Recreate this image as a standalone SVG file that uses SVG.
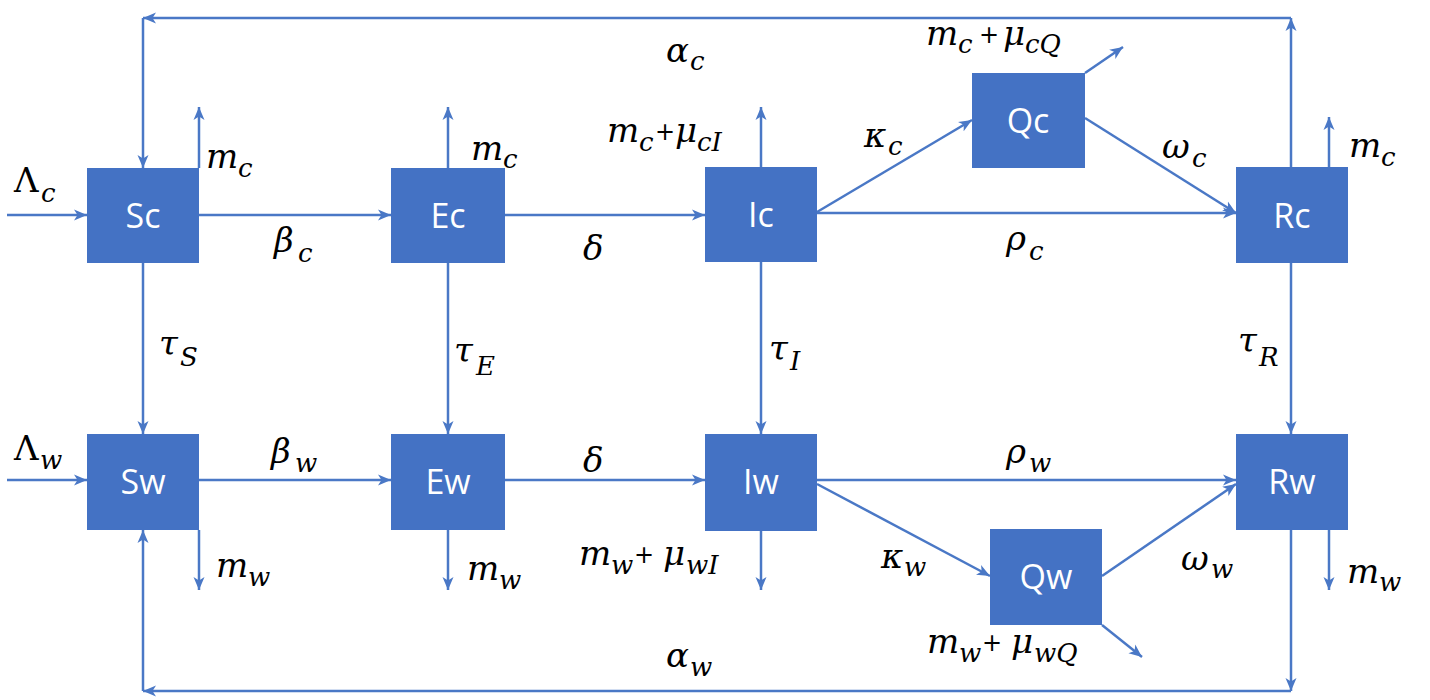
<svg xmlns="http://www.w3.org/2000/svg" width="1430" height="700" viewBox="0 0 1430 700">
<style>
.box{fill:#4472C4}
.bt{fill:#fff;font-family:"Open Sans","Liberation Sans",sans-serif;font-size:34px;text-anchor:middle}
.ln{stroke:#4a78c6;stroke-width:2.5;fill:none}
.a{marker-end:url(#ah)}
.m{font-family:"DejaVu Serif","Liberation Serif",serif;font-style:italic;font-size:34px;fill:#000}
.s{font-size:26px}
.u{font-style:normal}
.p{font-style:normal;font-family:"DejaVu Sans",sans-serif;font-size:24px}
</style>
<defs>
<marker id="ah" markerUnits="userSpaceOnUse" markerWidth="14" markerHeight="12" refX="13" refY="6" orient="auto">
<path d="M0,0.5 L13,6 L0,11.5 L3.5,6 z" fill="#4a78c6"/>
</marker>
</defs>
<rect width="1430" height="700" fill="#fff"/>
<g id="connectors">
<line class="ln a" x1="7" y1="215" x2="87" y2="215"/>
<line class="ln a" x1="199" y1="215" x2="391" y2="215"/>
<line class="ln a" x1="505" y1="215" x2="705" y2="215"/>
<line class="ln a" x1="817" y1="213" x2="1236" y2="213"/>
<line class="ln a" x1="817" y1="212" x2="972" y2="120"/>
<line class="ln a" x1="1085" y1="118" x2="1236" y2="213"/>
<line class="ln a" x1="1085" y1="73" x2="1123" y2="47"/>
<line class="ln a" x1="199" y1="168" x2="199" y2="107"/>
<line class="ln a" x1="448" y1="168" x2="448" y2="107"/>
<line class="ln a" x1="761" y1="167" x2="761" y2="107"/>
<line class="ln a" x1="1329" y1="167" x2="1329" y2="117"/>
<line class="ln a" x1="1291" y1="167" x2="1291" y2="18"/>
<line class="ln a" x1="1291" y1="18" x2="143" y2="18"/>
<line class="ln a" x1="143" y1="18" x2="143" y2="168"/>
<line class="ln a" x1="143" y1="263" x2="143" y2="434"/>
<line class="ln a" x1="448" y1="263" x2="448" y2="434"/>
<line class="ln a" x1="761" y1="262" x2="761" y2="434"/>
<line class="ln a" x1="1291" y1="263" x2="1291" y2="434"/>
<line class="ln a" x1="7" y1="480" x2="87" y2="480"/>
<line class="ln a" x1="199" y1="480" x2="391" y2="480"/>
<line class="ln a" x1="505" y1="480" x2="705" y2="480"/>
<line class="ln a" x1="817" y1="480" x2="1236" y2="480"/>
<line class="ln a" x1="817" y1="484" x2="990" y2="576"/>
<line class="ln a" x1="1102" y1="576" x2="1236" y2="484"/>
<line class="ln a" x1="1102" y1="625" x2="1142" y2="657"/>
<line class="ln a" x1="199" y1="530" x2="199" y2="590"/>
<line class="ln a" x1="448" y1="530" x2="448" y2="590"/>
<line class="ln a" x1="761" y1="531" x2="761" y2="590"/>
<line class="ln a" x1="1329" y1="530" x2="1329" y2="590"/>
<line class="ln a" x1="1291" y1="530" x2="1291" y2="691"/>
<line class="ln a" x1="1291" y1="691" x2="143" y2="691"/>
<line class="ln a" x1="143" y1="691" x2="143" y2="530"/>
</g>
<g id="Sc"><rect class="box" x="87" y="168" width="112" height="95"/><text class="bt" x="143" y="228">Sc</text></g>
<g id="Ec"><rect class="box" x="391" y="168" width="114" height="95"/><text class="bt" x="448" y="228">Ec</text></g>
<g id="Ic"><rect class="box" x="705" y="167" width="112" height="95"/><text class="bt" x="761" y="227">Ic</text></g>
<g id="Qc"><rect class="box" x="972" y="73" width="113" height="95"/><text class="bt" x="1028" y="133">Qc</text></g>
<g id="Rc"><rect class="box" x="1236" y="167" width="112" height="96"/><text class="bt" x="1292" y="228">Rc</text></g>
<g id="Sw"><rect class="box" x="87" y="434" width="112" height="96"/><text class="bt" x="143" y="494">Sw</text></g>
<g id="Ew"><rect class="box" x="391" y="434" width="114" height="96"/><text class="bt" x="448" y="494">Ew</text></g>
<g id="Iw"><rect class="box" x="705" y="434" width="112" height="97"/><text class="bt" x="761" y="494">Iw</text></g>
<g id="Qw"><rect class="box" x="990" y="529" width="112" height="96"/><text class="bt" x="1046" y="589">Qw</text></g>
<g id="Rw"><rect class="box" x="1236" y="434" width="112" height="96"/><text class="bt" x="1292" y="494">Rw</text></g>
<g id="labels">
<text class="m"><tspan class="u" x="14" y="192">Λ</tspan><tspan class="s" x="41" y="202">c</tspan></text>
<text class="m"><tspan x="206" y="168">m</tspan><tspan class="s" x="238" y="177">c</tspan></text>
<text class="m"><tspan x="274" y="252">β</tspan><tspan class="s" x="298" y="262">c</tspan></text>
<text class="m"><tspan x="471" y="160">m</tspan><tspan class="s" x="503" y="168">c</tspan></text>
<text class="m"><tspan x="607" y="142">m</tspan><tspan class="s" x="639" y="151">c</tspan><tspan class="p" x="655" y="140">+</tspan><tspan x="675" y="142">μ</tspan><tspan class="s" x="697" y="151">cI</tspan></text>
<text class="m"><tspan x="666" y="62">α</tspan><tspan class="s" x="690" y="70">c</tspan></text>
<text class="m" x="583" y="260">δ</text>
<text class="m"><tspan x="864" y="147">κ</tspan><tspan class="s" x="888" y="155">c</tspan></text>
<text class="m"><tspan x="926" y="45">m</tspan><tspan class="s" x="958" y="53">c</tspan><tspan class="p" x="979" y="43">+</tspan><tspan x="1003" y="45">μ</tspan><tspan class="s" x="1025" y="53">cQ</tspan></text>
<text class="m"><tspan x="1162" y="158">ω</tspan><tspan class="s" x="1192" y="167">c</tspan></text>
<text class="m"><tspan x="1349" y="157">m</tspan><tspan class="s" x="1381" y="166">c</tspan></text>
<text class="m"><tspan x="1006" y="250">ρ</tspan><tspan class="s" x="1029" y="260">c</tspan></text>
<text class="m"><tspan x="159" y="355">τ</tspan><tspan class="s" x="180" y="366">S</tspan></text>
<text class="m"><tspan x="454" y="362">τ</tspan><tspan class="s" x="476" y="375">E</tspan></text>
<text class="m"><tspan x="769" y="360">τ</tspan><tspan class="s" x="790" y="370">I</tspan></text>
<text class="m"><tspan x="1238" y="352">τ</tspan><tspan class="s" x="1259" y="366">R</tspan></text>
<text class="m"><tspan class="u" x="14" y="460">Λ</tspan><tspan class="s" x="40" y="469">w</tspan></text>
<text class="m"><tspan x="271" y="463">β</tspan><tspan class="s" x="295" y="472">w</tspan></text>
<text class="m"><tspan x="216" y="577">m</tspan><tspan class="s" x="248" y="586">w</tspan></text>
<text class="m"><tspan x="467" y="580">m</tspan><tspan class="s" x="499" y="589">w</tspan></text>
<text class="m" x="583" y="472">δ</text>
<text class="m"><tspan x="579" y="565">m</tspan><tspan class="s" x="611" y="574">w</tspan><tspan class="p" x="634" y="563">+</tspan><tspan x="663" y="565">μ</tspan><tspan class="s" x="686" y="574">wI</tspan></text>
<text class="m"><tspan x="881" y="568">κ</tspan><tspan class="s" x="904" y="576">w</tspan></text>
<text class="m"><tspan x="666" y="667">α</tspan><tspan class="s" x="690" y="676">w</tspan></text>
<text class="m"><tspan x="1006" y="463">ρ</tspan><tspan class="s" x="1029" y="472">w</tspan></text>
<text class="m"><tspan x="1181" y="570">ω</tspan><tspan class="s" x="1211" y="578">w</tspan></text>
<text class="m"><tspan x="1347" y="583">m</tspan><tspan class="s" x="1379" y="591">w</tspan></text>
<text class="m"><tspan x="927" y="653">m</tspan><tspan class="s" x="959" y="662">w</tspan><tspan class="p" x="982" y="651">+</tspan><tspan x="1011" y="653">μ</tspan><tspan class="s" x="1034" y="662">wQ</tspan></text>
</g>
</svg>
